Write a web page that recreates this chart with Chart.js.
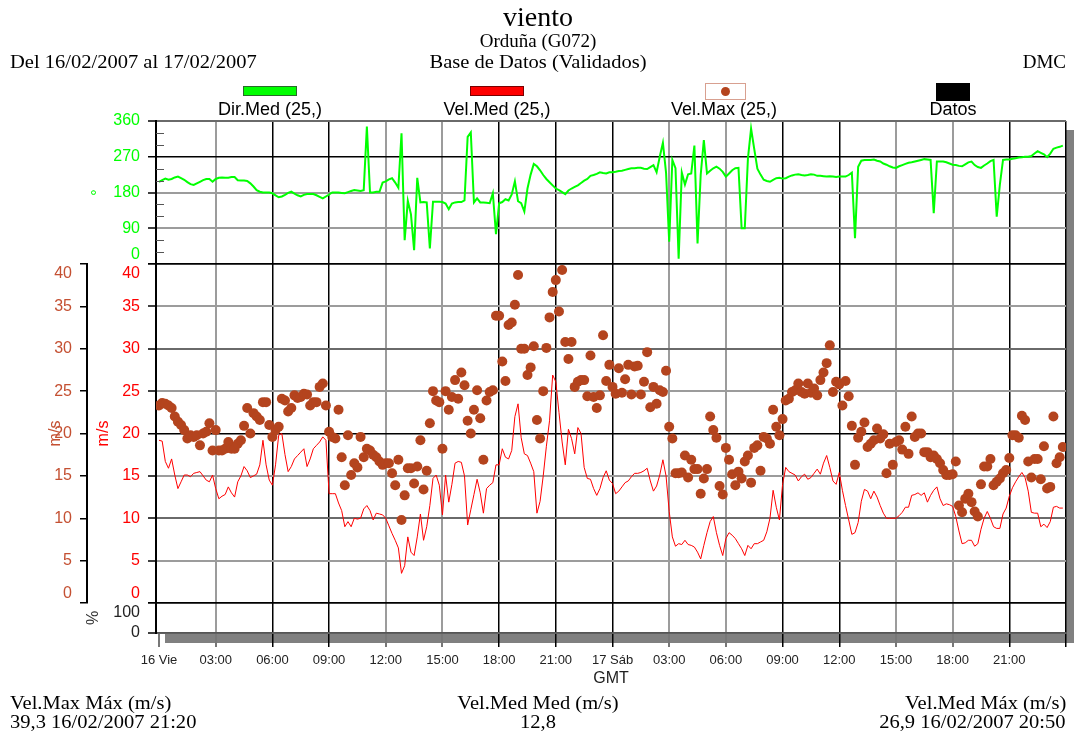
<!DOCTYPE html>
<html>
<head>
<meta charset="utf-8">
<title>viento - Orduña (G072)</title>
<script src="https://cdn.jsdelivr.net/npm/chart.js@4.4.1/dist/chart.umd.min.js"></script>
<style>
  body { margin: 0; background: #fff; }
  #wrap { position: relative; width: 1074px; height: 738px; overflow: hidden; }
  #chart { position: absolute; left: 0; top: 0; }
  .serif { position: absolute; font-family: "Liberation Serif", "Times New Roman", serif; font-size: 19px; line-height: 19px; color: #000; white-space: nowrap; }
  .wide { transform: scaleX(1.08); transform-origin: left center; }
  .center { left: 0; width: 1076px; text-align: center; }
  .center.wide { transform-origin: center center; }
  .right { right: 8px; text-align: right; }
  .right.wide { transform-origin: right center; }
  .lg { position: absolute; font-family: "Liberation Sans", Arial, sans-serif; font-size: 18px; line-height: 18px; color: #000; white-space: nowrap; transform: translateX(-50%); top: 100px; }
  .box { position: absolute; box-sizing: border-box; }
</style>
</head>
<body>
<div id="wrap">
  <canvas id="chart" width="1074" height="738"></canvas>

  <div class="serif center" style="top:3px;font-size:28px;line-height:28px;">viento</div>
  <div class="serif center" style="top:31px;">Orduña (G072)</div>
  <div class="serif wide" style="left:10px;top:52px;">Del 16/02/2007 al 17/02/2007</div>
  <div class="serif center wide" style="top:52px;">Base de Datos (Validados)</div>
  <div class="serif right" style="top:52px;">DMC</div>

  <!-- legend -->
  <div class="box" style="left:243px;top:86px;width:54px;height:10px;background:#00ff00;border:1px solid #2a6a2a;"></div>
  <div class="lg" style="left:270px;">Dir.Med (25,)</div>
  <div class="box" style="left:470px;top:86px;width:54px;height:10px;background:#ff0000;border:1px solid #7a0000;"></div>
  <div class="lg" style="left:497px;">Vel.Med (25,)</div>
  <div class="box" style="left:705px;top:83px;width:41px;height:17px;background:#fff;border:1px solid #d8a090;"></div>
  <div class="box" style="left:721px;top:87px;width:9px;height:9px;border-radius:50%;background:#b4441e;"></div>
  <div class="lg" style="left:724px;">Vel.Max (25,)</div>
  <div class="box" style="left:936px;top:83px;width:34px;height:18px;background:#000;"></div>
  <div class="lg" style="left:953px;">Datos</div>

  <!-- footer -->
  <div class="serif wide" style="left:10px;top:693px;">Vel.Max Máx (m/s)</div>
  <div class="serif wide" style="left:10px;top:712px;">39,3 16/02/2007 21:20</div>
  <div class="serif center wide" style="top:693px;">Vel.Med Med (m/s)</div>
  <div class="serif center wide" style="top:712px;">12,8</div>
  <div class="serif right wide" style="top:693px;">Vel.Med Máx (m/s)</div>
  <div class="serif right wide" style="top:712px;">26,9 16/02/2007 20:50</div>
</div>

<script>
// samples every 10 minutes, hours from 16/02/2007 00:00 GMT
const hours = [];
for (let i = 0; i < 288; i++) hours.push(i / 6);

// direccion media (grados)
const dirMed = [
  207,211,215,212,214,218, 220,216,212,206,201,199,
  203,207,211,214,214,207, 214,217,218,217,217,219,
  219,211,210,210,209,203, 195,186,182,180,180,180,
  178,173,168,170,174,179, 182,177,173,170,174,176,
  176,176,173,169,165,170, 175,180,180,180,179,178,
  181,184,186,185,184,186, 346,180,180,182,182,205,
  208,213,216,205,192,329, 60,159,125,35,217,155,
  156,155,39,157,157,157, 156,152,138,152,155,156,
  156,160,320,331,155,165, 155,155,154,153,178,75,
  153,156,163,160,175,208, 158,153,132,190,225,252,
  246,236,224,214,206,198, 190,186,181,176,185,190,
  194,198,204,210,214,222, 224,227,231,229,228,231,
  231,232,234,235,237,239, 241,241,242,242,240,239,
  244,249,231,270,305,230, 56,262,241,13,230,200,
  226,228,298,52,224,312, 228,235,241,245,240,232,
  220,228,236,241,242,90, 90,266,341,290,240,225,
  212,209,207,212,216,217, 215,216,220,223,225,226,
  224,223,224,226,225,222, 222,221,220,221,220,219,
  220,220,220,224,230,65, 245,260,262,262,262,263,
  260,258,253,250,246,243, 242,246,249,252,255,256,
  258,260,262,264,263,262, 128,258,258,258,256,253,
  250,249,247,246,251,256, 258,249,244,242,248,253,
  259,262,119,200,262,263, 263,265,266,268,269,270,
  270,272,278,284,280,276, 269,278,290,293,295,298
];

// velocidad media (m/s)
const velMed = [
  19.2,19.1,16.7,15.9,17.0,15.1, 13.5,14.3,15.1,15.1,14.9,15.3,
  15.4,15.5,15.0,14.5,14.3,15.1, 13.5,12.3,12.6,12.8,13.7,13.0,
  12.5,14.3,15.0,16.1,15.6,14.8, 15.0,15.2,16.3,19.2,16.3,14.5,
  13.9,16.3,19.8,20.0,17.5,15.5, 16.1,17.0,17.4,17.8,18.2,16.1,
  17.0,18.2,18.6,19.0,19.6,19.2, 12.9,12.9,12.9,11.8,10.9,9.0,
  9.6,9.0,10.0,9.9,10.0,11.1, 11.5,10.9,9.8,10.6,10.5,10.4,
  10.0,9.1,8.2,7.4,6.5,3.5, 4.4,7.8,6.0,5.6,7.8,10.5,
  7.4,9.0,11.5,14.7,15.1,13.9, 10.4,15.1,11.9,14.0,16.5,16.7,
  16.6,15.0,9.2,11.0,12.8,14.6, 13.0,10.6,13.5,13.9,14.2,16.3,
  16.3,18.2,17.2,17.0,18.0,22.0, 23.5,19.5,17.6,17.4,16.5,15.5,
  10.6,12.0,15.0,18.5,21.5,26.9, 26.1,22.5,19.0,16.3,20.5,19.4,
  17.6,20.7,20.0,16.0,14.7,14.6, 13.5,12.7,13.5,14.8,15.6,14.5,
  14.1,12.9,13.2,13.7,14.2,14.4, 14.9,15.3,15.3,15.4,15.6,15.9,
  14.4,13.2,13.8,15.1,16.9,15.0, 10.8,7.8,6.7,7.0,6.9,7.4,
  6.9,6.8,6.6,6.0,5.2,6.8, 8.3,9.6,10.2,8.3,6.8,5.6,
  7.6,8.3,8.0,7.6,7.0,6.4, 5.6,6.8,6.4,7.0,7.0,7.2,
  7.4,8.4,10.0,13.3,11.3,9.8, 14.0,16.0,15.5,15.3,15.1,14.4,
  14.9,15.2,14.6,14.8,15.3,15.8, 15.2,16.5,17.4,16.0,14.4,14.0,
  15.4,13.3,11.5,9.8,8.1,8.3, 9.5,12.0,13.4,13.2,12.3,13.2,
  12.5,11.5,10.6,10.0,10.0,10.0, 10.0,10.3,10.7,11.3,11.3,12.7,
  12.8,13.0,12.7,13.0,11.9,12.7, 13.3,13.7,12.3,11.5,11.7,11.6,
  11.4,10.2,8.5,7.0,7.1,7.4, 7.4,6.7,7.0,8.7,10.0,10.8,
  10.0,9.0,8.8,8.8,10.5,11.2, 12.6,13.6,14.3,14.9,15.4,14.8,
  13.2,10.7,10.6,10.6,9.0,9.3, 8.9,9.6,11.3,11.4,11.2,11.2
];

// velocidad maxima (m/s)
const velMax = [
  23.3,23.6,23.5,23.3,23.0,22.0, 21.4,21.0,20.4,19.4,19.8,19.6,
  19.8,18.6,20.0,20.2,21.2,18.0, 20.4,18.0,18.0,18.2,19.0,18.2,
  18.2,18.8,19.2,20.9,23.0,20.0, 22.4,22.0,21.6,23.7,23.7,21.0,
  19.6,20.4,20.8,24.1,23.9,22.6, 23.0,24.5,24.2,24.3,24.7,24.6,
  23.3,23.7,23.7,25.5,25.9,23.3, 20.2,19.6,19.4,22.8,17.2,13.9,
  19.8,15.1,16.5,16.0,19.6,17.2, 18.2,18.0,17.5,17.2,16.7,16.3,
  16.5,16.5,15.3,13.9,16.9,9.8, 12.7,15.9,15.9,14.1,16.1,19.2,
  13.4,15.6,21.2,25.0,23.9,23.7, 18.2,25.0,22.8,24.3,26.3,24.1,
  27.2,25.7,21.5,20.0,22.8,25.1, 21.8,16.9,23.9,24.9,25.1,33.9,
  33.9,28.5,26.2,32.8,33.1,35.2, 38.7,30.0,30.0,26.9,27.8,30.3,
  21.6,19.4,25.0,30.1,33.7,36.7, 38.1,34.4,39.3,30.8,28.8,30.8,
  25.5,26.1,26.3,26.3,24.4,29.2, 24.3,23.0,24.5,31.6,26.2,28.1,
  25.5,24.7,27.7,24.8,26.4,28.1, 24.6,27.9,28.0,24.6,26.1,29.6,
  23.1,25.5,23.5,25.1,24.9,27.4, 20.8,19.4,15.3,15.3,15.4,17.4,
  14.8,16.9,15.8,15.8,12.9,14.7, 15.8,22.0,20.4,19.5,13.8,12.8,
  18.3,16.9,15.2,13.9,15.5,14.7, 16.7,17.4,14.2,18.3,18.6,15.6,
  19.6,19.4,18.8,22.8,20.8,19.8, 21.7,23.9,24.1,24.9,25.1,25.9,
  24.9,24.7,25.9,24.8,25.3,24.5, 26.3,27.2,28.3,30.4,24.9,26.1,
  25.8,23.3,26.2,24.4,20.9,16.3, 19.5,20.2,21.3,18.4,18.8,19.2,
  20.6,19.4,19.9,15.3,18.8,16.3, 19.0,19.2,18.1,20.8,17.6,22.0,
  19.6,20.0,20.0,17.8,17.8,17.2, 17.4,17.0,16.5,15.7,15.1,15.1,
  15.2,16.7,11.5,10.7,12.3,12.9, 11.9,10.8,10.2,14.0,16.1,16.1,
  17.0,13.9,14.3,14.7,15.3,15.7, 17.1,19.8,19.8,19.5,22.1,21.6,
  16.7,14.8,17.0,17.0,14.6,18.5, 13.5,13.7,22.0,16.5,17.2,18.4
];

// ticks
const xTickHours = [0,3,6,9,12,15,18,21,24,27,30,33,36,39,42,45,48];
const xTickLabels = ['16 Vie','03:00','06:00','09:00','12:00','15:00','18:00','21:00',
  '17 Sáb','03:00','06:00','09:00','12:00','15:00','18:00','21:00',''];
const darkHours = [6,9,18,21,24,33,36,45,48];
const dirTicks = [0,90,180,270,360];
const dirMinorTicks = [30,60,120,150,210,240,300,330];
const speedTicks = [0,5,10,15,20,25,30,35,40];
const pctTicks = [0,100];

const GREEN = '#00ff00';
const RED = '#ff0000';
const BROWN = '#b4441e';
const BROWN_TXT = '#c45032';
const SANS = '"Liberation Sans", Arial, sans-serif';

const pts = (arr) => arr.map((v, i) => ({x: hours[i], y: v}));

// labels sitting on a panel edge are moved inside the panel (two-line trick)
const edgeLabel = (v, low, high, keepLow, keepHigh) => {
  if (v === high && !keepHigh) return ['', String(v)];
  if (v === low && !keepLow) return [String(v), ''];
  return String(v);
};

const setTicks = (list) => (scale) => {
  scale.ticks = list.map((v) => ({value: v}));
};

const gridStyle = (darkList, midList) => ({
  color: (ctx) => {
    const v = ctx.tick && ctx.tick.value;
    if (darkList.includes(v)) return '#000';
    if (midList.includes(v)) return '#6a6a6a';
    return '#9c9c9c';
  },
  lineWidth: (ctx) => (darkList.includes(ctx.tick && ctx.tick.value) ? 1.5 : 2),
  tickColor: '#000',
  tickWidth: 1.5,
  tickLength: 8,
});

const yTicks = (color, cb) => ({
  color,
  padding: 8,
  autoSkip: false,
  font: {family: SANS, size: 16},
  callback: cb,
});

// plot shadow behind the chart area
const shadowPlugin = {
  id: 'shadow',
  beforeDraw(chart) {
    const {ctx, chartArea: a} = chart;
    ctx.save();
    ctx.fillStyle = '#808080';
    ctx.fillRect(a.left + 9, a.top + 9, a.right - a.left, a.bottom - a.top + 1);
    ctx.fillStyle = '#fff';
    ctx.fillRect(a.left, a.top, a.right - a.left, a.bottom - a.top);
    ctx.restore();
  },
  afterDraw(chart) {
    // small inner ticks on the direction axis
    const {ctx, chartArea: a} = chart;
    const s = chart.scales.yDir;
    ctx.save();
    ctx.strokeStyle = '#555';
    ctx.lineWidth = 1;
    dirMinorTicks.forEach((v) => {
      const y = Math.round(s.getPixelForValue(v)) + 0.5;
      ctx.beginPath();
      ctx.moveTo(a.left, y);
      ctx.lineTo(a.left + 8, y);
      ctx.stroke();
    });
    ctx.restore();
  },
};

const ctx = document.getElementById('chart').getContext('2d');
new Chart(ctx, {
  type: 'line',
  data: {
    datasets: [
      {
        label: 'Vel.Max (25,)',
        data: pts(velMax),
        yAxisID: 'yMax',
        showLine: false,
        pointRadius: 5,
        pointBackgroundColor: BROWN,
        pointBorderColor: BROWN,
        pointBorderWidth: 0,
      },
      {
        label: 'Vel.Med (25,)',
        data: pts(velMed),
        yAxisID: 'ySpeed',
        borderColor: RED,
        borderWidth: 1,
        pointRadius: 0,
        tension: 0,
      },
      {
        label: 'Dir.Med (25,)',
        data: pts(dirMed),
        yAxisID: 'yDir',
        borderColor: GREEN,
        borderWidth: 2,
        pointRadius: 0,
        tension: 0,
      },
    ],
  },
  options: {
    responsive: false,
    animation: false,
    devicePixelRatio: 1,
    events: [],
    layout: {padding: {left: 40, right: 8, top: 121, bottom: 50}},
    plugins: {legend: {display: false}, title: {display: false}, tooltip: {enabled: false}},
    scales: {
      x: {
        type: 'linear',
        position: 'bottom',
        min: -0.16,
        max: 48,
        afterBuildTicks: setTicks(xTickHours),
        afterFit: (s) => { s.height = 55; },
        grid: {
          color: (c) => {
            const v = c.tick && c.tick.value;
            if (v === 0) return 'rgba(0,0,0,0)';
            return darkHours.includes(v) ? '#000' : '#9c9c9c';
          },
          lineWidth: (c) => (darkHours.includes(c.tick && c.tick.value) ? 1.5 : 2),
          tickColor: (c) => (darkHours.includes(c.tick && c.tick.value) ? '#000' : '#777'),
          tickLength: 14,
        },
        border: {display: true, color: '#555', width: 1.5},
        ticks: {
          autoSkip: false,
          maxRotation: 0,
          padding: 6,
          color: '#222',
          font: {family: SANS, size: 13},
          callback: (v, i) => xTickLabels[i],
        },
        title: {display: true, text: 'GMT', color: '#222', font: {family: SANS, size: 16}, padding: {top: 0, bottom: 0}},
      },
      // inner column: defined bottom to top
      yPct: {
        type: 'linear',
        position: 'left',
        stack: 'inner',
        stackWeight: 30,
        weight: 1,
        min: 0,
        max: 100,
        afterBuildTicks: setTicks(pctTicks),
        afterFit: (s) => { s.width = 69; },
        grid: gridStyle([100], [0]),
        border: {display: true, color: '#000', width: 2},
        ticks: yTicks('#222', (v) => edgeLabel(v, 0, 100, true, false)),
        title: {display: true, text: '%', color: '#333', font: {family: SANS, size: 16}, padding: {top: -3}},
      },
      ySpeed: {
        type: 'linear',
        position: 'left',
        stack: 'inner',
        stackWeight: 339,
        weight: 1,
        min: 0,
        max: 40,
        afterBuildTicks: setTicks(speedTicks),
        afterFit: (s) => { s.width = 69; },
        grid: gridStyle([0, 20, 40], [10, 30]),
        border: {display: true, color: '#000', width: 2},
        ticks: yTicks(RED, (v) => edgeLabel(v, 0, 40, false, false)),
        title: {display: true, text: 'm/s', color: RED, font: {family: SANS, size: 16}, padding: {top: 7}},
      },
      yDir: {
        type: 'linear',
        position: 'left',
        stack: 'inner',
        stackWeight: 143,
        weight: 1,
        min: 0,
        max: 360,
        afterBuildTicks: setTicks(dirTicks),
        afterFit: (s) => { s.width = 69; },
        grid: gridStyle([0, 270], [360]),
        border: {display: true, color: '#000', width: 2},
        ticks: yTicks(GREEN, (v) => edgeLabel(v, 0, 360, false, true)),
        title: {display: true, text: '°', color: GREEN, font: {family: SANS, size: 16}, padding: {top: 2}},
      },
      // outer column (Vel.Max axis), defined bottom to top
      yOuterLow: {
        type: 'linear', position: 'left', stack: 'outer', stackWeight: 30, weight: 2,
        display: false, min: 0, max: 1,
      },
      yMax: {
        type: 'linear',
        position: 'left',
        stack: 'outer',
        stackWeight: 339,
        weight: 2,
        min: 0,
        max: 40,
        afterBuildTicks: setTicks(speedTicks),
        afterFit: (s) => { s.width = 47; },
        grid: {drawOnChartArea: false, color: '#000', tickLength: 7, lineWidth: 1.5},
        border: {display: true, color: '#000', width: 2},
        ticks: yTicks(BROWN_TXT, (v) => edgeLabel(v, 0, 40, false, false)),
        title: {display: true, text: 'm/s', color: BROWN_TXT, font: {family: SANS, size: 16}, padding: {top: 6}},
      },
      yOuterHigh: {
        type: 'linear', position: 'left', stack: 'outer', stackWeight: 143, weight: 2,
        display: false, min: 0, max: 1,
      },
    },
  },
  plugins: [shadowPlugin],
});
</script>
</body>
</html>
